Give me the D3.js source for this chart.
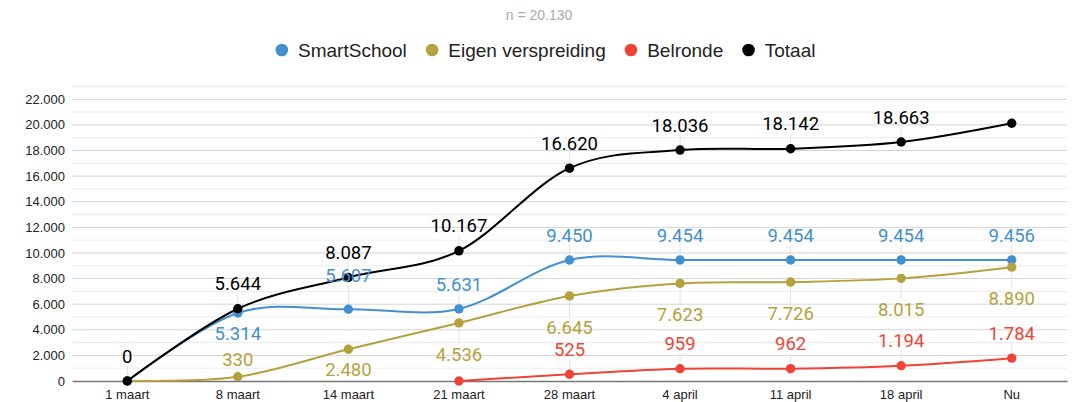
<!DOCTYPE html>
<html>
<head>
<meta charset="utf-8">
<script src="https://cdn.jsdelivr.net/npm/d3@7"></script>
<style>
  body { margin: 0; background: #fff; }
  svg { display: block; }
</style>
</head>
<body>
<svg id="chart" width="1079" height="402"></svg>
<script>
// categories and series values
const categories = ["1 maart", "8 maart", "14 maart", "21 maart", "28 maart", "4 april", "11 april", "18 april", "Nu"];
const smartSchool = [0, 5314, 5607, 5631, 9450, 9454, 9454, 9454, 9456];
const eigenVerspreiding = [0, 330, 2480, 4536, 6645, 7623, 7726, 8015, 8890];
const belronde = [null, null, null, 0, 525, 959, 962, 1194, 1784];
const totaal = [0, 5644, 8087, 10167, 16620, 18036, 18142, 18663, 20130];
const yTicks = [0, 2000, 4000, 6000, 8000, 10000, 12000, 14000, 16000, 18000, 20000, 22000];
const subtitle = "n = 20.130";

// label placement per point: a = above, h = higher, l = just above, b = below, n = just below, - = none
const series = [
  { name: "SmartSchool", values: smartSchool, color: "#4290cf", labels: "-nhaaaaaa" },
  { name: "Eigen verspreiding", values: eigenVerspreiding, color: "#b5a23e", labels: "-lnbbbbbb" },
  { name: "Belronde", values: belronde, color: "#ef4435", labels: "----aaaaa" },
  { name: "Totaal", values: totaal, color: "#000000", labels: "aaaaaaaa-" }
];
const labelOffset = { a: -25, h: -34, l: -17, b: 31, n: 20 };

const W = 1079, H = 402;
const margin = { left: 72, right: 12, top: 86.5, bottom: 21 };
const svg = d3.select("#chart");

const x = d3.scaleBand().domain(categories).range([margin.left, W - margin.right]);
const y = d3.scaleLinear().domain([0, 23000]).range([H - margin.bottom, margin.top]);
const cx = c => x(c) + x.bandwidth() / 2;
const fmt = v => d3.format(",")(v).replace(/,/g, ".");

// gridlines (minor every 1000, major every 2000)
const grid = svg.append("g");
grid.selectAll("line.minor")
  .data(d3.range(1000, 23001, 2000))
  .enter().append("line")
  .attr("x1", margin.left).attr("x2", W - margin.right)
  .attr("y1", d => y(d)).attr("y2", d => y(d))
  .attr("stroke", "#ececec").attr("stroke-width", 1);
grid.selectAll("line.major")
  .data(yTicks.slice(1))
  .enter().append("line")
  .attr("x1", margin.left).attr("x2", W - margin.right)
  .attr("y1", d => y(d)).attr("y2", d => y(d))
  .attr("stroke", "#d4d4d4").attr("stroke-width", 1);

// y axis labels
svg.append("g")
  .selectAll("text")
  .data(yTicks)
  .enter().append("text")
  .attr("x", 65)
  .attr("y", d => y(d))
  .attr("dy", "0.35em")
  .attr("text-anchor", "end")
  .style("font-family", "Liberation Sans, Arial, sans-serif")
  .style("font-size", "13px")
  .attr("fill", "#222")
  .text(fmt);

// x axis
const xAxis = svg.append("g")
  .attr("transform", `translate(0,${y(0)})`)
  .call(d3.axisBottom(x).tickSize(0).tickPadding(9));
xAxis.select(".domain").attr("stroke", "#777").attr("stroke-width", 1.5);
xAxis.selectAll("text")
  .style("font-family", "Liberation Sans, Arial, sans-serif")
  .style("font-size", "13px")
  .attr("fill", "#222");

// annotation stems
const labelData = [];
series.forEach(s => {
  s.values.forEach((v, i) => {
    const k = s.labels[i];
    if (v === null || k === "-") return;
    labelData.push({ cat: categories[i], v: v, color: s.color, off: labelOffset[k] });
  });
});
svg.append("g")
  .selectAll("line")
  .data(labelData)
  .enter().append("line")
  .attr("x1", d => cx(d.cat)).attr("x2", d => cx(d.cat))
  .attr("y1", d => y(d.v))
  .attr("y2", d => y(d.v) + d.off + (d.off < 0 ? 10 : -10))
  .attr("stroke", "#e2e2e2").attr("stroke-width", 1);

// lines and points
const line = d3.line()
  .defined(d => d.v !== null)
  .x(d => cx(d.cat))
  .y(d => y(d.v))
  .curve(d3.curveCatmullRom.alpha(0));

series.forEach(s => {
  const pts = s.values.map((v, i) => ({ cat: categories[i], v: v }));
  svg.append("path")
    .datum(pts)
    .attr("d", line)
    .attr("fill", "none")
    .attr("stroke", s.color)
    .attr("stroke-width", 2);
  svg.append("g")
    .selectAll("circle")
    .data(pts.filter(d => d.v !== null))
    .enter().append("circle")
    .attr("cx", d => cx(d.cat))
    .attr("cy", d => y(d.v))
    .attr("r", 4.7)
    .attr("fill", s.color);
});

// data labels
svg.append("g")
  .selectAll("text")
  .data(labelData)
  .enter().append("text")
  .attr("x", d => cx(d.cat))
  .attr("y", d => y(d.v) + d.off)
  .attr("dy", "0.36em")
  .attr("text-anchor", "middle")
  .style("font-family", "Roboto, sans-serif")
  .style("font-size", "18.5px")
  .attr("fill", d => d.color)
  .text(d => fmt(d.v));

// subtitle
svg.append("text")
  .attr("x", 539).attr("y", 15)
  .attr("dy", "0.35em")
  .attr("text-anchor", "middle")
  .style("font-family", "Liberation Sans, Arial, sans-serif")
  .style("font-size", "14px")
  .attr("fill", "#aaa")
  .text(subtitle);

// legend
const legend = svg.append("g");
let lx = 0;
series.forEach(s => {
  const g = legend.append("g").attr("transform", `translate(${lx},0)`);
  g.append("circle").attr("cx", 6.3).attr("cy", 0).attr("r", 6.3).attr("fill", s.color);
  const t = g.append("text")
    .attr("x", 22.5).attr("y", 0).attr("dy", "0.35em")
    .style("font-family", "Liberation Sans, Arial, sans-serif")
    .style("font-size", "19px")
    .attr("fill", "#222")
    .text(s.name);
  lx += 22.5 + t.node().getComputedTextLength() + 19;
});
const legendWidth = lx - 19;
legend.attr("transform", `translate(${545.5 - legendWidth / 2},50)`);
</script>
</body>
</html>
